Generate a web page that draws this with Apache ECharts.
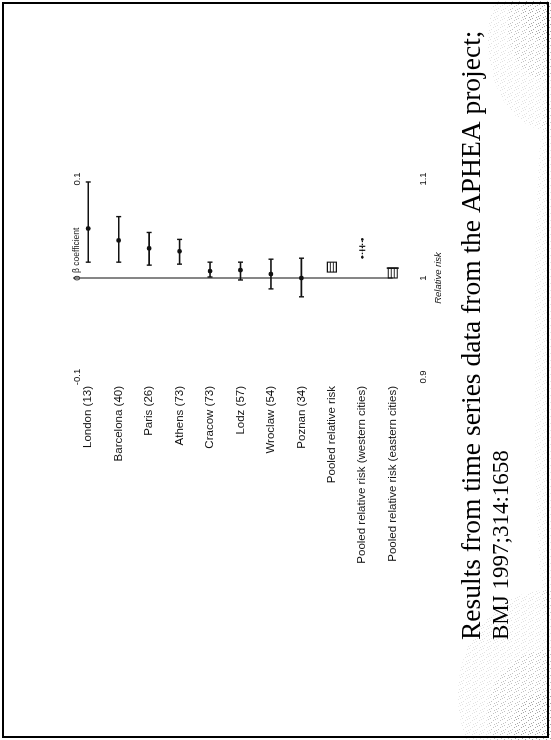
<!DOCTYPE html>
<html>
<head>
<meta charset="utf-8">
<script src="https://cdn.jsdelivr.net/npm/echarts@6/dist/echarts.min.js"></script>
<style>
  html, body { margin: 0; padding: 0; background: #fff; overflow: hidden; }
  /* The slide is laid out landscape and turned a quarter turn counter-clockwise. */
  #stage {
    position: absolute; left: 0; top: 0;
    width: 740px; height: 551px;
    transform-origin: 0 0;
    transform: translateY(740px) rotate(-90deg);
  }
</style>
</head>
<body>
<div id="stage"></div>
<script>
// Rows of the forest plot, top to bottom
const categories = [
  'London (13)', 'Barcelona (40)', 'Paris (26)', 'Athens (73)',
  'Cracow (73)', 'Lodz (57)', 'Wroclaw (54)', 'Poznan (34)',
  'Pooled relative risk',
  'Pooled relative risk (western cities)',
  'Pooled relative risk (eastern cities)'
];

// City estimates on the beta-coefficient scale
const cityLow  = [0.016, 0.016, 0.013, 0.014, 0.001, -0.002, -0.011, -0.019];
const cityEst  = [0.050, 0.038, 0.030, 0.027, 0.007,  0.008,  0.004,  0.000];
const cityHigh = [0.097, 0.062, 0.046, 0.039, 0.016,  0.016,  0.019,  0.020];

// Pooled estimates on the relative-risk scale
const pooledLow  = [1.006, 1.021, 1.000];
const pooledEst  = [1.011, 1.030, 1.005];
const pooledHigh = [1.016, 1.039, 1.010];

const betaTicks = [-0.1, 0, 0.1];
const rrTicks = [0.9, 1, 1.1];

const titleLines = [
  'Results from time series data from the APHEA project;',
  'BMJ 1997;314:1658'
];

const INK = '#111';
const chart = echarts.init(document.getElementById('stage'), null, { renderer: 'canvas' });

function cityBar(params, api) {
  const idx = api.value(0);
  const lo = api.coord([api.value(1), idx]);
  const mid = api.coord([api.value(2), idx]);
  const hi = api.coord([api.value(3), idx]);
  const y = mid[1];
  const cap = 2.5;
  return {
    type: 'group',
    children: [
      { type: 'line', shape: { x1: lo[0], y1: y, x2: hi[0], y2: y }, style: { stroke: INK, lineWidth: 1.6 } },
      { type: 'line', shape: { x1: lo[0], y1: y - cap, x2: lo[0], y2: y + cap }, style: { stroke: INK, lineWidth: 1.4 } },
      { type: 'line', shape: { x1: hi[0], y1: y - cap, x2: hi[0], y2: y + cap }, style: { stroke: INK, lineWidth: 1.4 } },
      { type: 'circle', shape: { cx: mid[0], cy: y, r: 2.4 }, style: { fill: INK } }
    ]
  };
}

function pooledMark(params, api) {
  const idx = api.value(0);
  const kind = api.value(4);
  const lo = api.coord([api.value(1), idx]);
  const mid = api.coord([api.value(2), idx]);
  const hi = api.coord([api.value(3), idx]);
  const y = mid[1];
  const h = 4.5;
  if (kind === 1) {
    // dotted bar with end dots and a crossed centre
    return {
      type: 'group',
      children: [
        { type: 'line', shape: { x1: lo[0], y1: y, x2: hi[0], y2: y }, style: { stroke: INK, lineWidth: 1.2, lineDash: [1.5, 1.5] } },
        { type: 'circle', shape: { cx: lo[0], cy: y, r: 1.4 }, style: { fill: INK } },
        { type: 'circle', shape: { cx: hi[0], cy: y, r: 1.4 }, style: { fill: INK } },
        { type: 'line', shape: { x1: mid[0] - 2, y1: y - 3, x2: mid[0] - 2, y2: y + 3 }, style: { stroke: INK, lineWidth: 1.2 } },
        { type: 'line', shape: { x1: mid[0] + 2, y1: y - 3, x2: mid[0] + 2, y2: y + 3 }, style: { stroke: INK, lineWidth: 1.2 } }
      ]
    };
  }
  const kids = [
    { type: 'rect', shape: { x: lo[0], y: y - h, width: hi[0] - lo[0], height: 2 * h },
      style: { fill: 'none', stroke: INK, lineWidth: 1.1 } },
    { type: 'line', shape: { x1: lo[0], y1: y - h / 3, x2: hi[0], y2: y - h / 3 }, style: { stroke: INK, lineWidth: 0.9 } },
    { type: 'line', shape: { x1: lo[0], y1: y + h / 3, x2: hi[0], y2: y + h / 3 }, style: { stroke: INK, lineWidth: 0.9 } }
  ];
  if (kind === 2) {
    kids.push({ type: 'line', shape: { x1: hi[0], y1: y - h - 1.5, x2: hi[0], y2: y + h + 1.5 }, style: { stroke: INK, lineWidth: 1.6 } });
  }
  return { type: 'group', children: kids };
}

function zeroLine(params, api) {
  const band = api.size([0, 1])[1];
  const top = api.coord([0, 0]);
  const bottom = api.coord([0, categories.length - 1]);
  return {
    type: 'line',
    shape: { x1: top[0], y1: top[1] - band / 2, x2: bottom[0], y2: bottom[1] },
    style: { stroke: '#222', lineWidth: 1.1 }
  };
}

// Fixed halftone tile used for the worn edge of the slide
function grainTile() {
  const c = document.createElement('canvas');
  c.width = 7; c.height = 7;
  const g = c.getContext('2d');
  g.fillStyle = '#666';
  [[0, 0], [3, 1], [1, 4], [5, 3], [2, 6], [6, 5]].forEach(p => g.fillRect(p[0], p[1], 1, 1));
  return c;
}

const cityData = cityEst.map((v, i) => [i, cityLow[i], v, cityHigh[i]]);
const pooledData = pooledEst.map((v, i) => [8 + i, pooledLow[i], v, pooledHigh[i], i]);

chart.setOption({
  animation: false,
  backgroundColor: '#fff',
  textStyle: { fontFamily: '"Liberation Sans", Arial, sans-serif', color: INK },
  grid: { left: 363, width: 198, top: 73, height: 335 },
  xAxis: [
    {
      type: 'value', position: 'top', min: betaTicks[0], max: betaTicks[2], interval: 0.1,
      offset: -9,
      axisLine: { show: false }, axisTick: { show: false }, splitLine: { show: false },
      axisLabel: { margin: 0, fontSize: 9.5, color: INK }
    },
    {
      type: 'value', position: 'bottom', min: rrTicks[0], max: rrTicks[2], interval: 0.1,
      axisLine: { show: false }, axisTick: { show: false }, splitLine: { show: false },
      axisLabel: { margin: 10, fontSize: 9.5, color: INK },
      name: 'Relative risk', nameLocation: 'middle', nameGap: 25,
      nameTextStyle: { fontSize: 9.5, color: INK, fontStyle: 'italic' }
    }
  ],
  yAxis: {
    type: 'category', inverse: true, data: categories,
    axisLine: { show: false }, axisTick: { show: false }, splitLine: { show: false },
    axisLabel: { margin: 9, fontSize: 11.5, color: INK }
  },
  series: [
    { type: 'custom', name: 'zero', xAxisIndex: 0, renderItem: zeroLine, data: [[0]], silent: true },
    { type: 'custom', name: 'cities', xAxisIndex: 0, renderItem: cityBar, data: cityData,
      encode: { x: [1, 2, 3], y: 0 } },
    { type: 'custom', name: 'pooled', xAxisIndex: 1, renderItem: pooledMark, data: pooledData,
      encode: { x: [1, 2, 3], y: 0 } }
  ]
});

// Axis caption beside the zero tick, slide title, worn edge and frame
const zeroX = chart.convertToPixel({ xAxisIndex: 0 }, 0);
const grain = { image: grainTile(), repeat: 'repeat' };
const wear = [
  [700, 548, 90, 60, 0.18], [715, 548, 55, 40, 0.25], [728, 548, 30, 25, 0.3],
  [45, 548, 105, 90, 0.18], [25, 548, 65, 60, 0.25], [12, 548, 35, 35, 0.3],
  [380, 548, 260, 14, 0.15]
].map(w => ({
  type: 'ellipse', silent: true,
  shape: { cx: w[0], cy: w[1], rx: w[2], ry: w[3] },
  style: { fill: grain, opacity: w[4] }
}));

chart.setOption({
  graphic: wear.concat([
    { type: 'text', x: zeroX + 5, y: 77,
      style: { text: 'β coefficient', font: '8.5px "Liberation Sans", Arial, sans-serif', fill: INK, verticalAlign: 'middle' } },
    { type: 'text', x: 100, y: 473,
      style: { text: titleLines[0], font: '27.5px "Liberation Serif", "Times New Roman", serif', fill: '#000', verticalAlign: 'middle' } },
    { type: 'text', x: 100, y: 502,
      style: { text: titleLines[1], font: '23px "Liberation Serif", "Times New Roman", serif', fill: '#000', verticalAlign: 'middle' } },
    { type: 'rect', shape: { x: 3, y: 3, width: 734, height: 545 },
      style: { fill: 'none', stroke: '#000', lineWidth: 2 } }
  ])
});
</script>
</body>
</html>
